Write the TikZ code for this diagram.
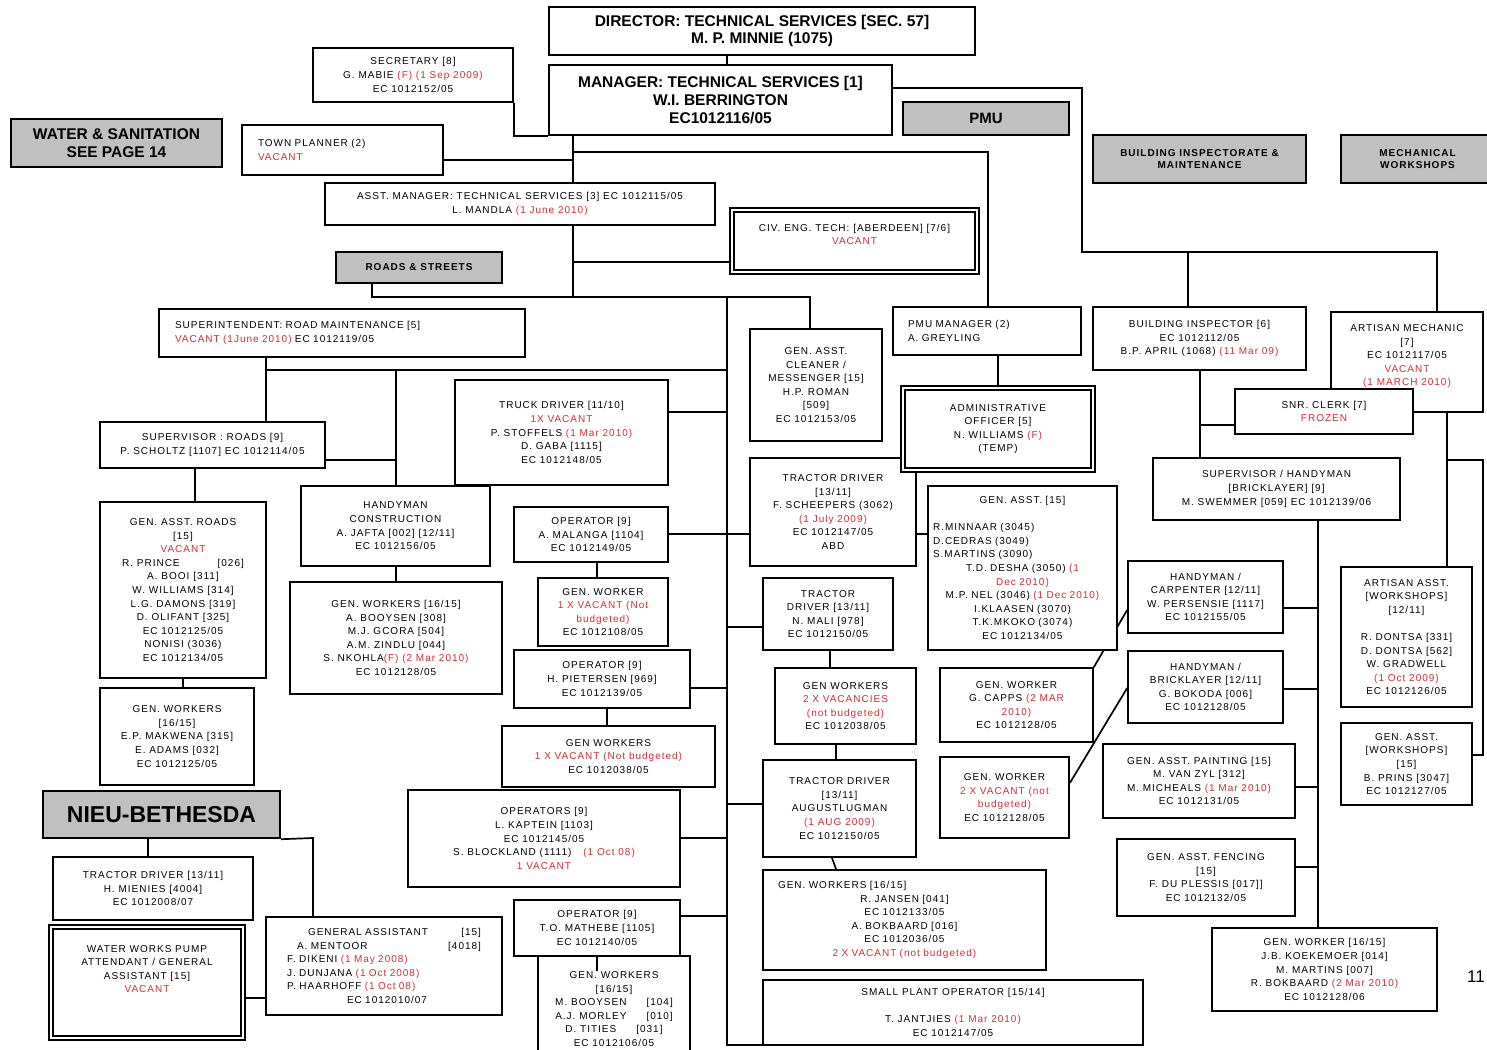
\documentclass[tikz,border=0pt]{standalone}
\usepackage{fontspec}
\setmainfont{Liberation Sans}
\newfontfamily\boxfont[LetterSpace=10]{Liberation Sans}
\usetikzlibrary{backgrounds}
\definecolor{vred}{RGB}{225,40,50}
\definecolor{hdrgray}{RGB}{192,192,192}
\newcommand{\rd}[1]{\textcolor{vred}{#1}}
% box from (x1,y1) to (x2,y2): name, x1, y1, x2, y2, style, text
\newcommand{\bx}[7]{\node[#6, minimum width={(#4-#2)*1pt}, minimum height={(#5-#3)*1pt}] (#1) at ({(#2+#4)/2},{(#3+#5)/2}) {#7};}
% left-aligned box: name, x1, y1, x2, y2, style, indent, text
\newcommand{\lbx}[8]{\node[#6, align=left, inner xsep=#7pt, text width={(#4-#2-2*#7)*1pt}, minimum height={(#5-#3)*1pt}] (#1) at ({(#2+#4)/2},{(#3+#5)/2}) {#8};}
\begin{document}
\begin{tikzpicture}[x=1pt,y=-1pt,
  box/.style={draw=black, line width=1.7pt, fill=white, align=center, inner xsep=3pt, inner ysep=2pt,
    font=\boxfont\fontsize{10}{13.6}\selectfont},
  hdr/.style={box, fill=hdrgray, line width=2.4pt, font=\boxfont\bfseries\fontsize{10}{12.5}\selectfont},
  big/.style={box, font=\bfseries\fontsize{15.5}{17.6}\selectfont},
  dbl/.style={box, double, double distance=1.1pt, line width=2.3pt},
  link/.style={line width=1.7pt, draw=black}]
\useasboundingbox (0,0) rectangle (1487,1049);

% ---------- top management ----------
\bx{dir}{549}{7}{975}{55}{big}{DIRECTOR: TECHNICAL SERVICES [SEC. 57]\\M. P. MINNIE (1075)}
\bx{mgr}{549}{65}{892}{135}{big}{MANAGER: TECHNICAL SERVICES [1]\\W.I. BERRINGTON\\EC1012116/05}
\bx{sec}{313}{48}{513}{102}{box}{SECRETARY [8]\\G. MABIE \rd{(F) (1 Sep 2009)}\\EC 1012152/05}
\bx{wat}{11}{119}{222}{167}{hdr,font=\bfseries\fontsize{15.5}{17.5}\selectfont}{WATER \& SANITATION\\SEE PAGE 14}
\lbx{town}{242}{125}{443}{175}{box}{16}{TOWN PLANNER (2)\\\rd{VACANT}}
\bx{pmu}{903}{102}{1069}{135}{hdr,font=\bfseries\fontsize{15}{17}\selectfont}{PMU}
\bx{bim}{1093}{135}{1306}{183}{hdr}{BUILDING INSPECTORATE \&\\MAINTENANCE}
\bx{mws}{1341}{135}{1494}{183}{hdr}{MECHANICAL\\WORKSHOPS}
\bx{asst}{325}{183}{715}{225}{box}{ASST. MANAGER: TECHNICAL SERVICES [3] EC 1012115/05\\L. MANDLA \rd{(1 June 2010)}}
\bx{civ}{732}{210}{977}{272}{dbl}{CIV. ENG. TECH: [ABERDEEN] [7/6]\\\rd{VACANT}\\~}
\bx{roads}{336}{252}{502}{283}{hdr}{ROADS \& STREETS}

% ---------- roads & streets ----------
\lbx{supt}{159}{309}{525}{357}{box}{16}{SUPERINTENDENT: ROAD MAINTENANCE [5]\\\rd{VACANT (1June 2010)} EC 1012119/05}
\bx{supr}{100}{422}{325}{468}{box}{SUPERVISOR : ROADS [9]\\P. SCHOLTZ [1107] EC 1012114/05}
\bx{gar}{100}{502}{266}{678}{box}{GEN. ASST. ROADS\\{[15]}\\\rd{VACANT}\\R. PRINCE\hspace{38pt}[026]\\A. BOOI [311]\\W. WILLIAMS [314]\\L.G. DAMONS [319]\\D. OLIFANT [325]\\EC 1012125/05\\NONISI (3036)\\EC 1012134/05}
\bx{gwl}{100}{688}{254}{785}{box}{GEN. WORKERS\\{[16/15]}\\E.P. MAKWENA [315]\\E. ADAMS [032]\\EC 1012125/05}
\bx{hcn}{301}{486}{490}{566}{box}{HANDYMAN\\CONSTRUCTION\\A. JAFTA [002] [12/11]\\EC 1012156/05}
\bx{gwm}{290}{582}{502}{694}{box}{GEN. WORKERS [16/15]\\A. BOOYSEN [308]\\M.J. GCORA [504]\\A.M. ZINDLU [044]\\S. NKOHLA\rd{(F) (2 Mar 2010)}\\EC 1012128/05}
\bx{trk}{455}{380}{668}{485}{box}{TRUCK DRIVER [11/10]\\\rd{1X VACANT}\\P. STOFFELS \rd{(1 Mar 2010)}\\D. GABA [1115]\\EC 1012148/05}
\bx{opm}{514}{507}{668}{562}{box}{OPERATOR [9]\\A. MALANGA [1104]\\EC 1012149/05}
\bx{gw1}{538}{578}{668}{646}{box}{GEN. WORKER\\\rd{1 X VACANT (Not}\\\rd{budgeted)}\\EC 1012108/05}
\bx{opp}{514}{650}{690}{708}{box}{OPERATOR [9]\\H. PIETERSEN [969]\\EC 1012139/05}
\bx{gw2}{502}{726}{715}{787}{box}{GEN WORKERS\\\rd{1 X VACANT (Not budgeted)}\\EC 1012038/05}
\bx{opk}{408}{790}{680}{887}{box}{OPERATORS [9]\\L. KAPTEIN [1103]\\EC 1012145/05\\S. BLOCKLAND (1111)\hspace{12pt}\rd{(1 Oct 08)}\\\rd{1 VACANT}}
\bx{opt}{514}{900}{680}{956}{box}{OPERATOR [9]\\T.O. MATHEBE [1105]\\EC 1012140/05}
\bx{gwb}{538}{956}{690}{1062}{box}{GEN. WORKERS\\{[16/15]}\\M. BOOYSEN\hspace{20pt}[104]\\A.J. MORLEY\hspace{20pt}[010]\\D. TITIES\hspace{20pt}[031]\\EC 1012106/05}

% ---------- Nieu-Bethesda ----------
\bx{nb}{43}{791}{280}{838}{hdr,font=\bfseries\fontsize{23}{25}\selectfont}{NIEU-BETHESDA}
\bx{tdn}{53}{857}{253}{920}{box}{TRACTOR DRIVER [13/11]\\H. MIENIES [4004]\\EC 1012008/07}
\bx{wwp}{51}{927}{243}{1038}{dbl}{WATER WORKS PUMP\\ATTENDANT / GENERAL\\ASSISTANT [15]\\\rd{VACANT}\\~\\~}
\lbx{gas}{266}{917}{502}{1015}{box}{21}{\hspace*{21pt}GENERAL ASSISTANT\hfill[15]\hspace*{24pt}\\\hspace*{10pt}A. MENTOOR\hfill[4018]\hspace*{11pt}\\F. DIKENI \rd{(1 May 2008)}\\J. DUNJANA \rd{(1 Oct 2008)}\\P. HAARHOFF \rd{(1 Oct 08)}\\\hspace*{60pt}EC 1012010/07}

% ---------- centre column ----------
\bx{ccg}{750}{329}{882}{441}{box}{GEN. ASST.\\CLEANER /\\MESSENGER [15]\\H.P. ROMAN\\{[509]}\\EC 1012153/05}
\bx{sch}{750}{458}{916}{566}{box}{TRACTOR DRIVER\\{[13/11]}\\F. SCHEEPERS (3062)\\\rd{(1 July 2009)}\\EC 1012147/05\\ABD}
\bx{mal}{763}{578}{893}{650}{box}{TRACTOR\\DRIVER [13/11]\\N. MALI [978]\\EC 1012150/05}
\bx{gwv}{775}{668}{916}{744}{box}{GEN WORKERS\\\rd{2 X VACANCIES}\\\rd{(not budgeted)}\\EC 1012038/05}
\bx{lug}{763}{760}{916}{857}{box}{TRACTOR DRIVER\\{[13/11]}\\AUGUSTLUGMAN\\\rd{(1 AUG 2009)}\\EC 1012150/05}
\bx{jan}{763}{870}{1046}{970}{box,text width=253pt}{\makebox[\linewidth][l]{GEN. WORKERS [16/15]}\\R. JANSEN [041]\\EC 1012133/05\\A. BOKBAARD [016]\\EC 1012036/05\\\rd{2 X VACANT (not budgeted)}}
\bx{spo}{763}{980}{1143}{1045}{box}{SMALL PLANT OPERATOR [15/14]\\~\\T. JANTJIES \rd{(1 Mar 2010)}\\EC 1012147/05}

% ---------- PMU ----------
\lbx{pmm}{893}{307}{1081}{355}{box}{15}{PMU MANAGER (2)\\A. GREYLING}
\bx{adm}{903}{388}{1093}{470}{dbl}{ADMINISTRATIVE\\OFFICER [5]\\N. WILLIAMS \rd{(F)}\\(TEMP)}
\bx{gam}{928}{486}{1117}{650}{box,text width=179pt}{GEN. ASST. [15]\\~\\\makebox[\linewidth][l]{R.MINNAAR (3045)}\\\makebox[\linewidth][l]{D.CEDRAS (3049)}\\\makebox[\linewidth][l]{S.MARTINS (3090)}\\T.D. DESHA (3050) \rd{(1}\\\rd{Dec 2010)}\\M.P. NEL (3046) \rd{(1 Dec 2010)}\\I.KLAASEN (3070)\\T.K.MKOKO (3074)\\EC 1012134/05}
\bx{capp}{940}{668}{1093}{742}{box}{GEN. WORKER\\G. CAPPS \rd{(2 MAR}\\\rd{2010)}\\EC 1012128/05}
\bx{gwx}{940}{757}{1069}{838}{box}{GEN. WORKER\\\rd{2 X VACANT (not}\\\rd{budgeted)}\\EC 1012128/05}

% ---------- building inspectorate ----------
\bx{bin}{1093}{307}{1306}{370}{box}{BUILDING INSPECTOR [6]\\EC 1012112/05\\B.P. APRIL (1068) \rd{(11 Mar 09)}}
\bx{art}{1331}{312}{1483}{412}{box}{ARTISAN MECHANIC\\{[7]}\\EC 1012117/05\\\rd{VACANT}\\\rd{(1 MARCH 2010)}\\~}
\bx{snr}{1235}{389}{1413}{434}{box}{SNR. CLERK [7]\\\rd{FROZEN}}
\bx{svh}{1153}{458}{1400}{520}{box}{SUPERVISOR / HANDYMAN\\{[BRICKLAYER] [9]}\\M. SWEMMER [059] EC 1012139/06}
\bx{hcp}{1128}{561}{1283}{633}{box}{HANDYMAN /\\CARPENTER [12/11]\\W. PERSENSIE [1117]\\EC 1012155/05}
\bx{hbr}{1128}{651}{1283}{723}{box}{HANDYMAN /\\BRICKLAYER [12/11]\\G. BOKODA [006]\\EC 1012128/05}
\bx{gap}{1103}{744}{1295}{818}{box}{GEN. ASST. PAINTING [15]\\M. VAN ZYL [312]\\M. MICHEALS \rd{(1 Mar 2010)}\\EC 1012131/05}
\bx{gaf}{1117}{839}{1295}{916}{box}{GEN. ASST. FENCING\\{[15]}\\F. DU PLESSIS [017]]\\EC 1012132/05}
\bx{gwk}{1212}{928}{1437}{1011}{box}{GEN. WORKER [16/15]\\J.B. KOEKEMOER [014]\\M. MARTINS [007]\\R. BOKBAARD \rd{(2 Mar 2010)}\\EC 1012128/06}

% ---------- mechanical workshops ----------
\bx{aas}{1341}{567}{1472}{707}{box}{ARTISAN ASST.\\{[WORKSHOPS]}\\{[12/11]}\\~\\R. DONTSA [331]\\D. DONTSA [562]\\W. GRADWELL\\\rd{(1 Oct 2009)}\\EC 1012126/05}
\bx{gaw}{1341}{723}{1472}{805}{box}{GEN. ASST.\\{[WORKSHOPS]}\\{[15]}\\B. PRINS [3047]\\EC 1012127/05}

% page number
\node[font=\fontsize{17}{17}\selectfont, anchor=east, inner sep=0pt] (pg) at (1485,977) {11};

% ---------- junction points ----------
\coordinate (a727) at (727,60);
\coordinate (t297) at (573,297);
\coordinate (t160) at (573,160);
\coordinate (t262) at (573,262);
\coordinate (p152) at (573,152);
\coordinate (q152) at (988,152);
\coordinate (r88) at (1082,88);
\coordinate (r252) at (1082,252);
\coordinate (s252) at (1437,252);
\coordinate (b252) at (1188,252);
\coordinate (d297) at (372,297);
\coordinate (e297) at (810,297);
\coordinate (k297) at (727,297);
\coordinate (k1045) at (727,1045);
\coordinate (s370) at (266,370);
\coordinate (u370) at (727,370);
\coordinate (h370) at (396,370);
\coordinate (h460) at (396,460);
\coordinate (x195) at (195,480);
\coordinate (x183) at (183,680);
\coordinate (x148) at (148,850);
\coordinate (x313) at (313,838);
\coordinate (y998) at (255,998);
\coordinate (k412) at (727,412);
\coordinate (m534) at (727,534);
\coordinate (x597) at (597,570);
\coordinate (k688) at (727,688);
\coordinate (x607) at (607,715);
\coordinate (k838) at (727,838);
\coordinate (k916) at (727,916);
\coordinate (k627) at (727,627);
\coordinate (x830) at (830,660);
\coordinate (x836) at (836,750);
\coordinate (k804) at (727,804);
\coordinate (x832) at (832,860);
\coordinate (x998) at (998,370);
\coordinate (y610) at (1110,610);
\coordinate (y783) at (1080,783);
\coordinate (y688) at (1110,688);
\coordinate (x1200) at (1200,425);
\coordinate (x1447) at (1447,460);
\coordinate (x1483) at (1483,460);
\coordinate (z755) at (1483,755);
\coordinate (x1318) at (1318,600);
\coordinate (v608) at (1318,608);
\coordinate (v689) at (1318,689);
\coordinate (v787) at (1318,787);
\coordinate (v867) at (1318,867);

\begin{pgfonlayer}{background}
\fill[white] (0,0) rectangle (1487,1049);
% management links
\draw[link] (dir.south -| a727) -- (mgr.north -| a727);
\draw[link] (sec.south east) |- (mgr.south west);
\draw[link] (mgr.south -| t297) -- (t297);
\draw[link] (town.east |- t160) -- (t160);
\draw[link] (t262) -- (civ.west |- t262);
\draw[link] (p152) -- (q152) -- (pmm.north -| q152);
\draw[link] (mgr.east |- r88) -- (r88) -- (r252) -- (s252) -- (art.north -| s252);
\draw[link] (b252) -- (bin.north -| b252);
% roads & streets
\draw[link] (roads.south -| d297) -- (d297) -- (e297) -- (ccg.north -| e297);
\draw[link] (k297) -- (k1045) -- (spo.west |- k1045);
\draw[link] (s370) -- (u370);
\draw[link] (supt.south -| s370) -- (supr.north -| s370);
\draw[link] (h370) -- (hcn.north -| h370);
\draw[link] (supr.east |- h460) -- (h460);
\draw[link] (supr.south -| x195) -- (gar.north -| x195);
\draw[link] (gar.south -| x183) -- (gwl.north -| x183);
\draw[link] (hcn.south -| h370) -- (gwm.north -| h370);
\draw[link] (trk.east |- k412) -- (k412);
\draw[link] (opm.east |- m534) -- (sch.west |- m534);
\draw[link] (sch.east |- m534) -- (gam.west |- m534);
\draw[link] (opm.south -| x597) -- (gw1.north -| x597);
\draw[link] (opp.east |- k688) -- (k688);
\draw[link] (opp.south -| x607) -- (gw2.north -| x607);
\draw[link] (opk.east |- k838) -- (k838);
\draw[link] (opt.east |- k916) -- (k916);
\draw[link] (k627) -- (mal.west |- k627);
\draw[link] (mal.south -| x830) -- (gwv.north -| x830);
\draw[link] (gwv.south -| x836) -- (lug.north -| x836);
\draw[link] (k804) -- (lug.west |- k804);
\draw[link] (lug.south -| x832) -- (jan.north -| x836);
% Nieu-Bethesda
\draw[link] (nb.south -| x148) -- (tdn.north -| x148);
\draw[link] (nb.south east) -- (x313) -- (gas.north -| x313);
\draw[link] (wwp.east |- y998) -- (gas.west |- y998);
% PMU
\draw[link] (pmm.south -| x998) -- (adm.north -| x998);
\draw[link] (capp.north east) -- (hcp.west |- y610);
\draw[link] (gwx.east |- y783) -- (hbr.west |- y688);
% building inspectorate
\draw[link] (bin.south -| x1200) -- (svh.north -| x1200);
\draw[link] (x1200) -- (snr.west |- x1200);
\draw[link] (svh.south -| x1318) -- (gwk.north -| x1318);
\draw[link] (hcp.east |- v608) -- (v608);
\draw[link] (hbr.east |- v689) -- (v689);
\draw[link] (gap.east |- v787) -- (v787);
\draw[link] (gaf.east |- v867) -- (v867);
% mechanical workshops
\draw[link] (art.south -| x1447) -- (aas.north -| x1447);
\draw[link] (x1447) -- (x1483) -- (z755) -- (gaw.east |- z755);
\end{pgfonlayer}

% short tick into the workers' box below the operator
\draw[link] (opt.south -| x597) -- ++(0,14);
\end{tikzpicture}
\end{document}
